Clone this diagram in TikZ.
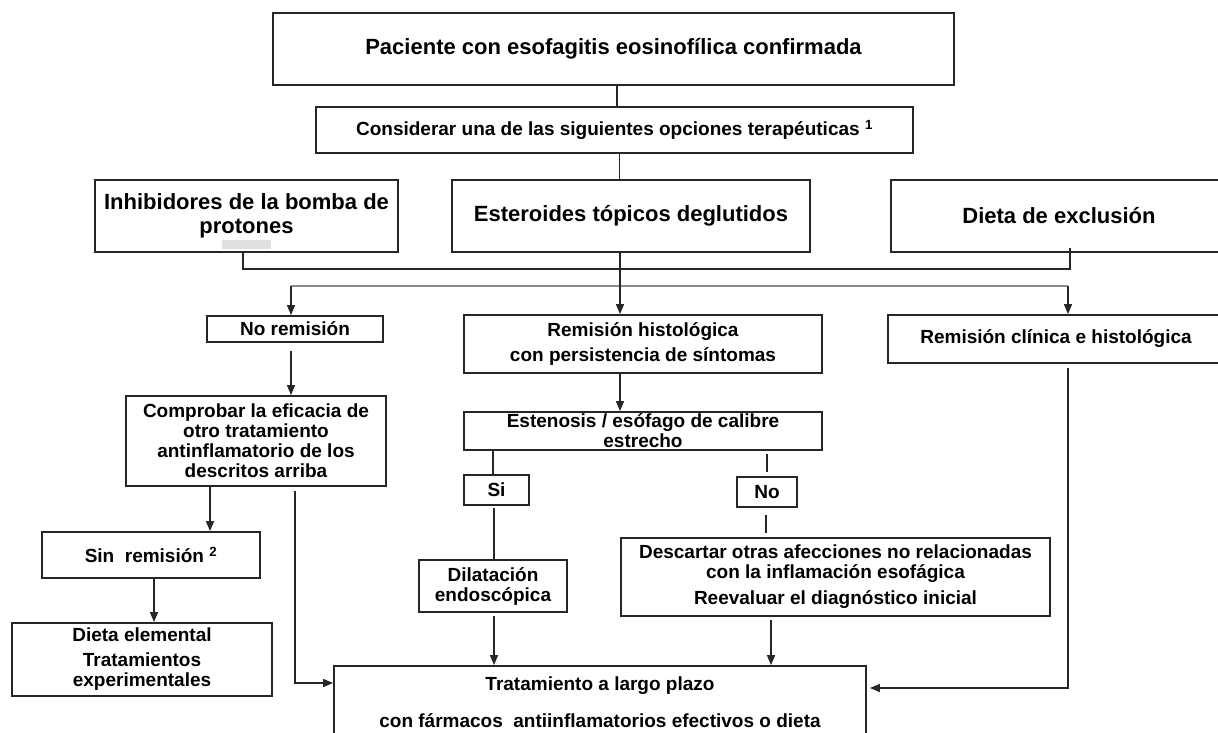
\documentclass[tikz,border=0pt]{standalone}
\usepackage{fontspec}
\setmainfont{Liberation Sans}
\usetikzlibrary{arrows.meta}
\newcommand\bigtxt{\fontsize{22}{24}\selectfont\bfseries}
\newcommand\medtxt{\fontsize{19}{20}\selectfont\bfseries}
\tikzset{
  box/.style={draw=black!85, line width=1.8pt, inner sep=0pt, align=center, font=\medtxt},
  bigbox/.style={box, font=\bigtxt},
  conn/.style={line width=1.4pt, draw=black!85},
  grayconn/.style={line width=1.5pt, draw=black!45},
  arr/.style={conn, -{Triangle[length=10pt,width=8pt]}},
}
\begin{document}
\begin{tikzpicture}[x=1pt,y=-1pt]
\path[use as bounding box] (0,0) rectangle (1218,733);
\fill[white] (0,0) rectangle (1218,733);
\clip (0,0) rectangle (1218,733);

% boxes
\node[bigbox, minimum width=681pt, minimum height=72pt] (top) at (613.5,49) {Paciente con esofagitis eosinofílica confirmada};
\node[box, minimum width=597pt, minimum height=46pt] (cons) at (614.5,130) {Considerar una de las siguientes opciones terapéuticas \textsuperscript{1}};
\node[bigbox, minimum width=303pt, minimum height=72pt] (ipp) at (246.5,216) {Inhibidores de la bomba de\\protones};
\node[bigbox, minimum width=358pt, minimum height=72pt] (est) at (631,216) {Esteroides tópicos deglutidos};
\node[bigbox, minimum width=336pt, minimum height=72pt] (diet) at (1059,216) {Dieta de exclusión};
\fill[black!12] (222,240) rectangle (271,249);

\node[box, minimum width=176pt, minimum height=26pt] (norem) at (295,329) {No remisión};
\node[box, minimum width=358pt, minimum height=58pt] (remh) at (643,344) {Remisión histológica\\[5pt]con persistencia de síntomas};
\node[box, minimum width=336pt, minimum height=48pt] (remc) at (1056,339) {Remisión clínica e histológica};
\node[box, minimum width=260pt, minimum height=90pt] (comp) at (256,441) {Comprobar la eficacia de\\otro tratamiento\\antinflamatorio de los\\descritos arriba};
\node[box, minimum width=358pt, minimum height=38pt] (esten) at (643,431) {Estenosis / esófago de calibre\\estrecho};
\node[box, minimum width=65pt, minimum height=30pt] (si) at (496.5,490) {Si};
\node[box, minimum width=60pt, minimum height=30pt] (no) at (767,492) {No};
\node[box, minimum width=218pt, minimum height=46pt] (sinrem) at (151,555) {Sin\ \ remisión \textsuperscript{2}};
\node[box, minimum width=148pt, minimum height=52pt] (dilat) at (493,586) {Dilatación\\endoscópica};
\node[box, minimum width=429pt, minimum height=78pt] (desc) at (835.5,577) {Descartar otras afecciones no relacionadas\\con la inflamación esofágica\\[6pt]Reevaluar el diagnóstico inicial};
\node[box, minimum width=260pt, minimum height=73pt] (dietel) at (142,659.5) {Dieta elemental\\[5pt]Tratamientos\\experimentales};
\node[box, minimum width=532pt, minimum height=73pt] (trat) at (600,702.5) {Tratamiento a largo plazo\\[17pt]con fármacos\ \ antiinflamatorios efectivos o dieta};

% coordinates for the junction lines
\coordinate (m1) at (243,269);
\coordinate (m2) at (1070,269);
\coordinate (s1) at (291,286);
\coordinate (s2) at (1068,286);

% connectors
\draw[conn] ([xshift=3.5pt]top.south) -- ([xshift=2.5pt]cons.north);
\draw[conn] ([xshift=5pt]cons.south) -- ([xshift=-11.5pt]est.north);
\draw[conn] ([xshift=-3.5pt]ipp.south) -- (m1) -- (m2) -- ([xshift=11pt,yshift=5pt]diet.south);
\draw[grayconn] (s1) -- (s2);
\draw[arr] (s1) -- ([xshift=-4pt]norem.north);
\draw[arr] (s2) -- ([xshift=12pt]remc.north);
\draw[arr] ([xshift=-11pt]est.south) -- ([xshift=-23pt]remh.north);

\draw[arr] ([xshift=-4pt,yshift=-8pt]norem.south) -- ([xshift=35pt]comp.north);
\draw[arr] ([xshift=-46pt]comp.south) -- ([xshift=59pt]sinrem.north);
\draw[arr] ([xshift=3pt]sinrem.south) -- ([xshift=12pt]dietel.north);
\draw[arr] ([xshift=39pt,yshift=-4pt]comp.south) |- ([yshift=19.5pt]trat.west);

\draw[arr] ([xshift=-23pt]remh.south) -- ([xshift=-23pt]esten.north);
\draw[conn] ([xshift=-150pt]esten.south) -- ([xshift=-3.5pt]si.north);
\draw[conn] ([xshift=-2.5pt,yshift=-2pt]si.south) -- ([xshift=1pt]dilat.north);
\draw[arr] ([xshift=1pt,yshift=-3pt]dilat.south) -- ([xshift=-106pt]trat.north);

\draw[conn] ([xshift=124pt,yshift=-3pt]esten.south) -- ([yshift=4pt]no.north);
\draw[conn] ([xshift=-1pt,yshift=-7pt]no.south) -- ([xshift=-69.5pt,yshift=4pt]desc.north);
\draw[arr] ([xshift=-64.5pt,yshift=-3pt]desc.south) -- ([xshift=171pt]trat.north);

\draw[arr] ([xshift=12pt,yshift=-4pt]remc.south) |- ([xshift=3pt,yshift=14.5pt]trat.east);
\end{tikzpicture}
\end{document}
